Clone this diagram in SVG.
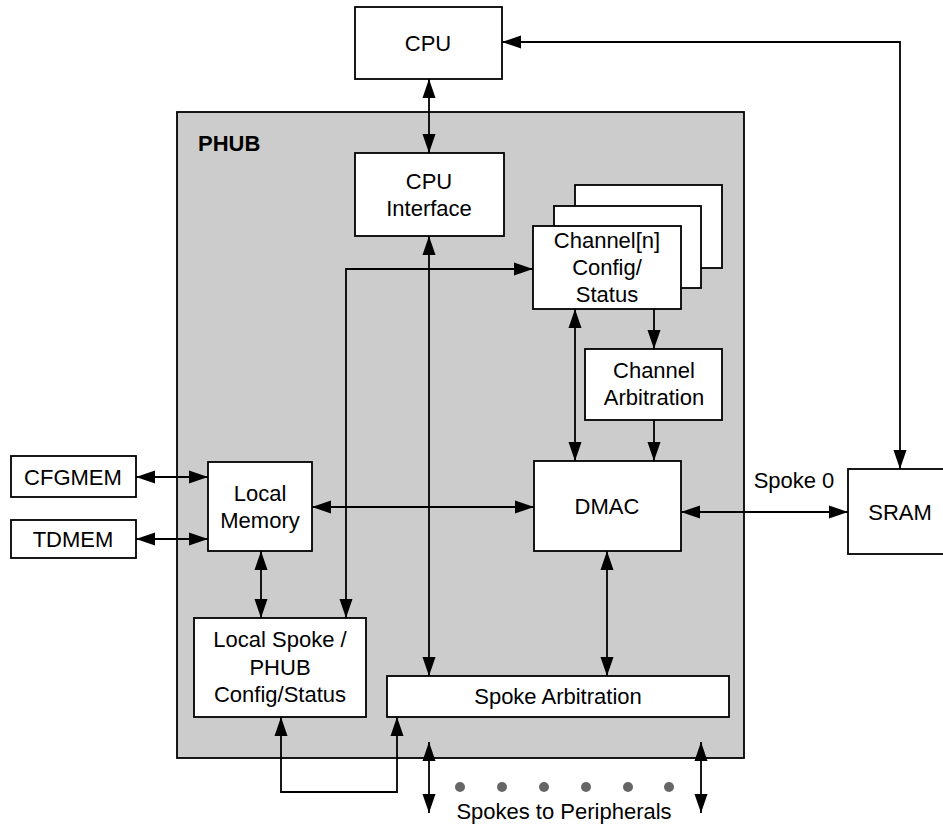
<svg xmlns="http://www.w3.org/2000/svg" width="943" height="825" viewBox="0 0 943 825">
<defs>
<style>
.box{fill:#fff;stroke:#000;stroke-width:1.8}
.t{font-family:"Liberation Sans",Arial,sans-serif;font-size:22px;fill:#000;text-anchor:middle;dominant-baseline:central}
.c{fill:none;stroke:#000;stroke-width:1.8}
.a2{marker-start:url(#ah);marker-end:url(#ah)}
.a1{marker-end:url(#ah)}
</style>
<marker id="ah" markerUnits="userSpaceOnUse" markerWidth="19" markerHeight="14" refX="19" refY="7" orient="auto-start-reverse" viewBox="0 0 19 14">
<path d="M0,0.5 L19,7 L0,13.5 z" fill="#000"/>
</marker>
</defs>
<rect width="943" height="825" fill="#fff"/>
<g id="phub">
<rect x="177" y="112" width="567" height="646" fill="#cccccc" stroke="#000" stroke-width="1.8"/>
<text x="198" y="143" class="t" style="text-anchor:start;font-weight:bold">PHUB</text>
</g>
<g id="cpu"><rect class="box" x="355" y="7" width="147" height="72"/><text class="t" x="428" y="43">CPU</text></g>
<g id="cpu-interface"><rect class="box" x="355" y="153" width="149" height="83"/><text class="t" x="429" y="181">CPU</text><text class="t" x="429" y="208">Interface</text></g>
<g id="channel-config">
<rect class="box" x="575" y="185" width="147" height="83"/>
<rect class="box" x="554" y="206" width="147" height="82"/>
<rect class="box" x="533" y="226" width="148" height="83"/>
<text class="t" x="607" y="240">Channel[n]</text><text class="t" x="607" y="267">Config/</text><text class="t" x="607" y="294">Status</text>
</g>
<g id="channel-arbitration"><rect class="box" x="585" y="349" width="137" height="71"/><text class="t" x="654" y="370">Channel</text><text class="t" x="654" y="397">Arbitration</text></g>
<g id="cfgmem"><rect class="box" x="11" y="456" width="125" height="41"/><text class="t" x="73" y="477">CFGMEM</text></g>
<g id="tdmem"><rect class="box" x="11" y="520" width="125" height="38"/><text class="t" x="73" y="539">TDMEM</text></g>
<g id="local-memory"><rect class="box" x="208" y="462" width="104" height="89"/><text class="t" x="260" y="493">Local</text><text class="t" x="260" y="520">Memory</text></g>
<g id="dmac"><rect class="box" x="534" y="461" width="147" height="90"/><text class="t" x="607" y="506">DMAC</text></g>
<g id="sram"><rect class="box" x="848" y="469" width="110" height="85"/><text class="t" x="900" y="512">SRAM</text></g>
<g id="local-spoke"><rect class="box" x="194" y="618" width="172" height="99"/><text class="t" x="280" y="639">Local Spoke /</text><text class="t" x="280" y="667">PHUB</text><text class="t" x="280" y="694">Config/Status</text></g>
<g id="spoke-arbitration"><rect class="box" x="387" y="676" width="342" height="41"/><text class="t" x="558" y="696">Spoke Arbitration</text></g>
<g id="connectors">
<path class="c a2" d="M429,79 L429,153"/>
<path class="c a2" d="M900,469 L900,42 L502,42"/>
<path class="c a2" d="M429,236 L429,676"/>
<path class="c a2" d="M346,618 L346,269 L533,269"/>
<path class="c a2" d="M575,309 L575,461"/>
<path class="c a1" d="M654,309 L654,349"/>
<path class="c a1" d="M654,420 L654,461"/>
<path class="c a2" d="M136,477 L208,477"/>
<path class="c a2" d="M136,539 L208,539"/>
<path class="c a2" d="M312,507 L534,507"/>
<path class="c a2" d="M681,512 L848,512"/>
<path class="c a2" d="M261,551 L261,618"/>
<path class="c a2" d="M607,551 L607,676"/>
<path class="c a2" d="M281,717 L281,792 L397,792 L397,717"/>
<path class="c a2" d="M429,742 L429,813"/>
<path class="c a2" d="M701,742 L701,813"/>
</g>
<g id="dots" fill="#666">
<circle cx="460" cy="787" r="5"/><circle cx="502" cy="787" r="5"/><circle cx="544" cy="787" r="5"/><circle cx="586" cy="787" r="5"/><circle cx="628" cy="787" r="5"/><circle cx="669" cy="787" r="5"/>
</g>
<text class="t" x="564" y="811">Spokes to Peripherals</text>
<text class="t" x="794" y="480">Spoke 0</text>
</svg>
